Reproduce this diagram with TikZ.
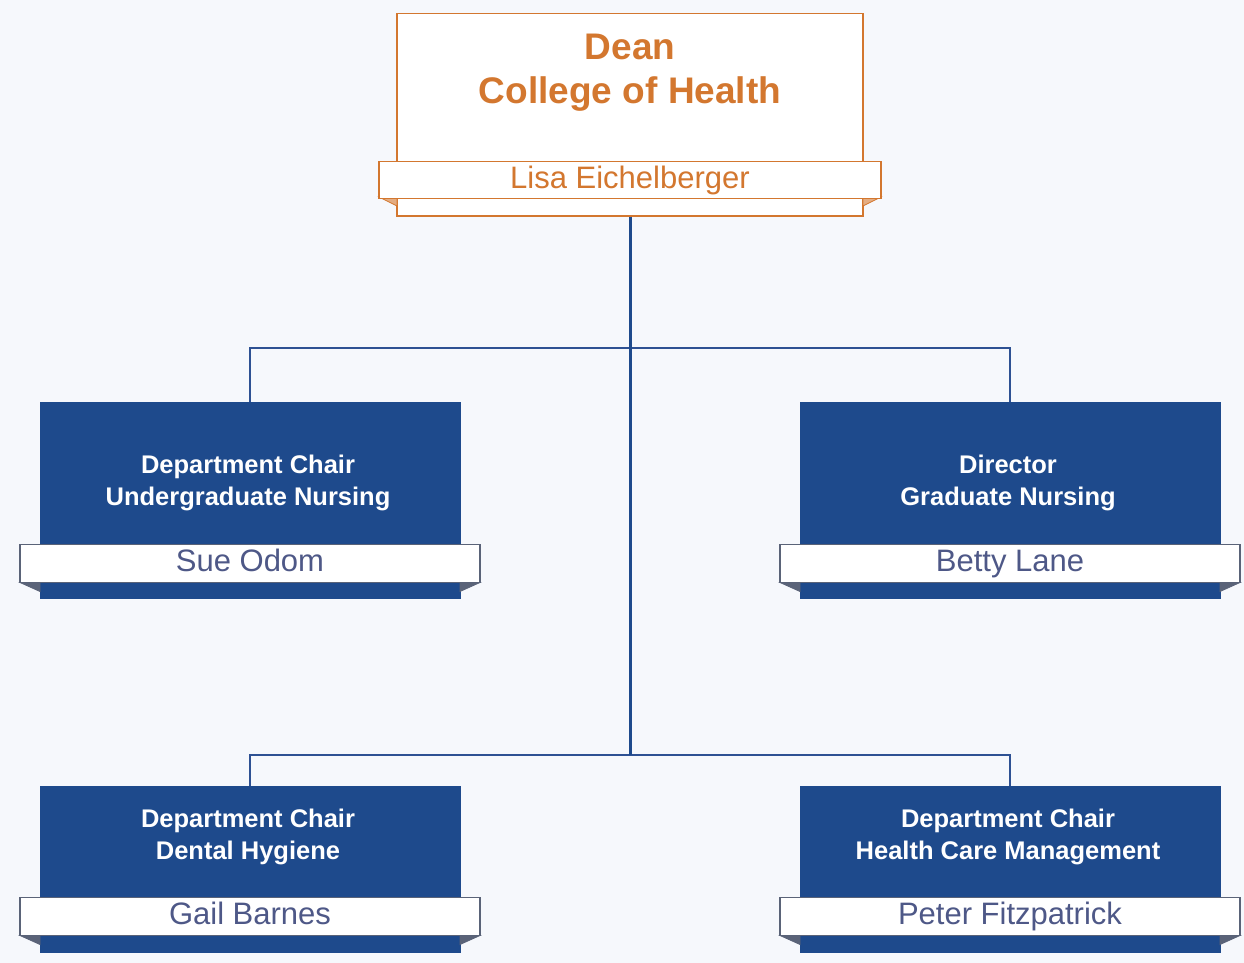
\documentclass[tikz,border=0pt]{standalone}
\usepackage{fontspec}
\setmainfont{Liberation Sans}
\definecolor{navy}{HTML}{1E4A8C}
\definecolor{linec}{HTML}{2E5193}
\definecolor{orng}{HTML}{D3772F}
\definecolor{namec}{HTML}{4E5887}
\definecolor{bandedge}{HTML}{5A6378}
\definecolor{bg}{HTML}{F6F8FC}
\begin{document}
\begin{tikzpicture}[x=1pt,y=-1pt,
  bluebox/.style={draw=navy,fill=navy,inner sep=0pt,minimum width=420pt,anchor=north},
  titletext/.style={text=white,font=\bfseries\fontsize{25.5}{32}\selectfont,align=center,inner sep=0pt},
  band/.style={draw=bandedge,fill=white,line width=1.2pt,inner sep=0pt,minimum width=460pt,minimum height=38pt,text height=22pt,text depth=6pt,text=namec,font=\fontsize{31}{36}\selectfont},
  fold/.style={fill=bandedge,draw=bandedge,line width=0.8pt},
  conn/.style={draw=linec,line width=2pt},
  mainconn/.style={draw=navy,line width=3pt}
]
\fill[bg] (0,0) rectangle (1244,963);
\useasboundingbox (0,0) rectangle (1244,963);

% Dean
\node[draw=orng,fill=white,line width=1.5pt,inner sep=0pt,minimum width=466pt,minimum height=202pt,anchor=north] (dean) at (630,13) {};
\node[text=orng,font=\bfseries\fontsize{37}{44}\selectfont,align=center,inner sep=0pt] (deant) at (630,73) {Dean\\College of Health};
\fill[orng!60,draw=orng,line width=0.8pt] (379,197) -- (397,197) -- (397,206) -- cycle;
\fill[orng!60,draw=orng,line width=0.8pt] (881,197) -- (863,197) -- (863,206) -- cycle;
\node[draw=orng,fill=white,line width=1.5pt,inner sep=0pt,minimum width=502pt,minimum height=37pt,text height=22pt,text depth=6pt,text=orng,font=\fontsize{31}{36}\selectfont] (deann) at (630,180) {Lisa Eichelberger};

% Boxes
\node[bluebox,minimum height=196pt] (b1) at (250,402) {};
\node[bluebox,minimum height=196pt] (b2) at (1010,402) {};
\node[bluebox,minimum height=166pt] (b3) at (250,786) {};
\node[bluebox,minimum height=166pt] (b4) at (1010,786) {};

\node[titletext] (t1) at (248,483) {Department Chair\\Undergraduate Nursing};
\node[titletext] (t2) at (1008,483) {Director\\Graduate Nursing};
\node[titletext] (t3) at (248,837) {Department Chair\\Dental Hygiene};
\node[titletext] (t4) at (1008,837) {Department Chair\\Health Care Management};

% folds
\foreach \cx/\by in {250/582.5,1010/582.5,250/935.5,1010/935.5}{
  \fill[fold] (\cx-230,\by) -- (\cx-210,\by) -- (\cx-210,\by+9) -- cycle;
  \fill[fold] (\cx+230,\by) -- (\cx+210,\by) -- (\cx+210,\by+9) -- cycle;
}

\node[band] (n1) at (250,563.5) {Sue Odom};
\node[band] (n2) at (1010,563.5) {Betty Lane};
\node[band] (n3) at (250,916.5) {Gail Barnes};
\node[band] (n4) at (1010,916.5) {Peter Fitzpatrick};

% connectors
\coordinate (jtop) at (630,348);
\coordinate (jbot) at (630,755);
\coordinate (jl1) at (250,348);
\coordinate (jr1) at (1010,348);
\coordinate (jl2) at (250,755);
\coordinate (jr2) at (1010,755);
\draw[conn] (b1.north) -- (jl1) -- (jr1) -- (b2.north);
\draw[conn] (b3.north) -- (jl2) -- (jr2) -- (b4.north);
\draw[mainconn] (dean.south) -- (jbot);
\end{tikzpicture}
\end{document}
